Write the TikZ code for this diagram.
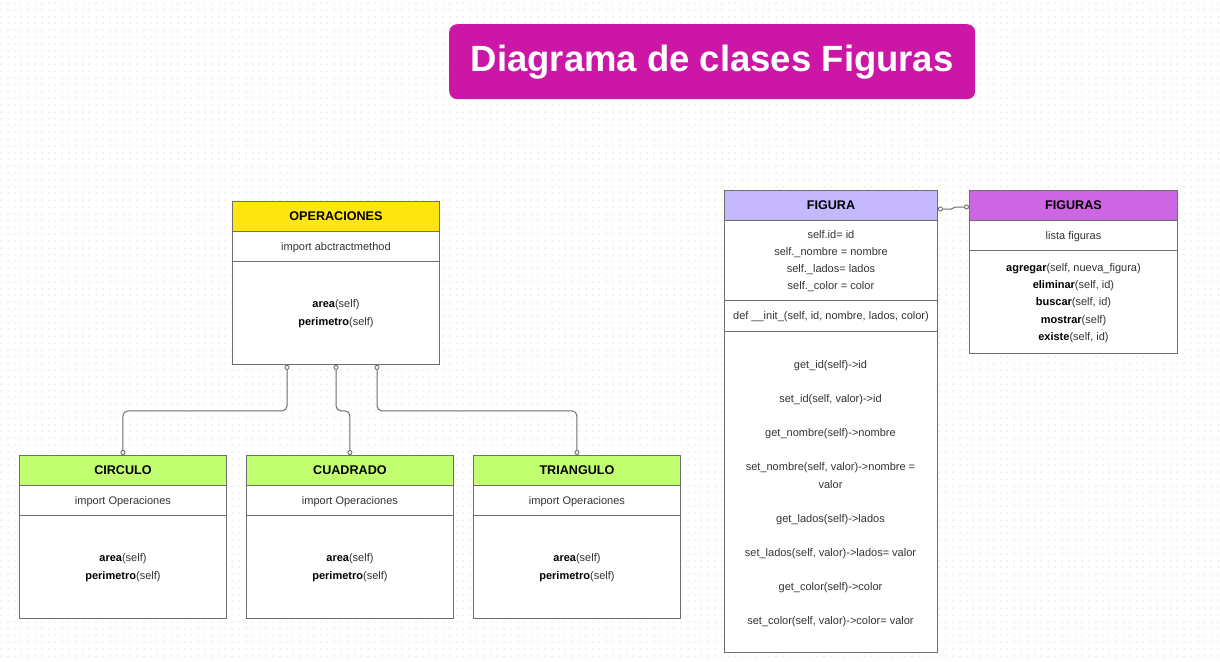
\documentclass[tikz,border=0pt]{standalone}
\usepackage{fontspec}
\setmainfont{Liberation Sans}
\usetikzlibrary{arrows.meta}
\definecolor{titlec}{HTML}{CC16A5}
\definecolor{yellowc}{HTML}{FFE60F}
\definecolor{greenc}{HTML}{C2FF70}
\definecolor{lavc}{HTML}{C5B8FF}
\definecolor{purpc}{HTML}{CC66E3}
\definecolor{linec}{HTML}{6E6E6E}
\definecolor{txtc}{HTML}{333333}
\definecolor{gridc}{HTML}{EFEFEF}
\begin{document}
\begin{tikzpicture}[x=1pt,y=-1pt,
  hdr/.style={draw=linec, line width=0.9pt, inner sep=0pt, anchor=north west, text depth=0pt,
    font=\fontsize{12.6}{14}\selectfont\bfseries, text=black},
  cell/.style={draw=linec, line width=0.9pt, fill=white, inner sep=0pt, anchor=north west,
    align=center, text=txtc, text depth=0pt, font=\fontsize{11}{18}\selectfont},
  txt/.style={inner sep=0pt, align=center, text=txtc, text depth=0pt, font=\fontsize{11}{18}\selectfont},
  conn/.style={draw=linec, line width=1pt, rounded corners=5pt,
    {Circle[open,length=5pt,width=5pt,line width=0.9pt]}-{Circle[open,length=5pt,width=5pt,line width=0.9pt]}}
]
\useasboundingbox (0,0) rectangle (1220,661);
\fill[white] (0,0) rectangle (1220,661);
% dotted grid of small crosses
\foreach \k in {0,...,97} {
  \draw[gridc, line width=0.6pt, dash pattern=on 2pt off 4.8pt] (0,{3+6.8*\k}) -- (1220,{3+6.8*\k});
}
\foreach \j in {0,...,179} {
  \draw[gridc, line width=0.6pt, dash pattern=on 2pt off 4.8pt] ({1+6.8*\j},2) -- ({1+6.8*\j},661);
}

% title
\node[fill=titlec, rounded corners=8pt, minimum width=526pt, minimum height=75pt, inner sep=0pt,
  anchor=north west, text=white, font=\fontsize{36.5}{40}\selectfont\bfseries] (title) at (449,24)
  {\raisebox{-2pt}{Diagrama de clases Figuras}};

% OPERACIONES
\node[hdr, fill=yellowc, minimum width=207pt, minimum height=30pt] (opsH) at (232,201) {OPERACIONES};
\node[cell, minimum width=207pt, minimum height=30pt] (opsA) at (232,231) {import abctractmethod};
\node[cell, minimum width=207pt, minimum height=103pt] (opsM) at (232,261)
  {\textcolor{black}{\bfseries area}(self)\\\textcolor{black}{\bfseries perimetro}(self)};

% children
\node[hdr, fill=greenc, minimum width=207pt, minimum height=30pt] (cirH) at (19,455) {CIRCULO};
\node[cell, minimum width=207pt, minimum height=30pt] (cirA) at (19,485) {import Operaciones};
\node[cell, minimum width=207pt, minimum height=103pt] (cirM) at (19,515)
  {\textcolor{black}{\bfseries area}(self)\\\textcolor{black}{\bfseries perimetro}(self)};

\node[hdr, fill=greenc, minimum width=207pt, minimum height=30pt] (cuaH) at (246,455) {CUADRADO};
\node[cell, minimum width=207pt, minimum height=30pt] (cuaA) at (246,485) {import Operaciones};
\node[cell, minimum width=207pt, minimum height=103pt] (cuaM) at (246,515)
  {\textcolor{black}{\bfseries area}(self)\\\textcolor{black}{\bfseries perimetro}(self)};

\node[hdr, fill=greenc, minimum width=207pt, minimum height=30pt] (triH) at (473,455) {TRIANGULO};
\node[cell, minimum width=207pt, minimum height=30pt] (triA) at (473,485) {import Operaciones};
\node[cell, minimum width=207pt, minimum height=103pt] (triM) at (473,515)
  {\textcolor{black}{\bfseries area}(self)\\\textcolor{black}{\bfseries perimetro}(self)};

% connectors
\draw[conn] ([xshift=55pt]opsM.south west) -- ++(0,46) -| (cirH.north);
\draw[conn] ([xshift=104pt]opsM.south west) -- ++(0,46) -| (cuaH.north);
\draw[conn] ([xshift=145pt]opsM.south west) -- ++(0,46) -| (triH.north);

% FIGURA
\node[hdr, fill=lavc, minimum width=213pt, minimum height=29.5pt] (figH) at (724,190) {FIGURA};
\node[cell, minimum width=213pt, minimum height=80.5pt, font=\fontsize{11}{17}\selectfont] (figA) at (724,219.5)
  {self.id= id\\self.\_nombre = nombre\\self.\_lados= lados\\self.\_color = color};
\node[cell, minimum width=213pt, minimum height=31pt] (figI) at (724,300)
  {def \_\_init\_(self, id, nombre, lados, color)};
\node[cell, minimum width=213pt, minimum height=321pt] (figM) at (724,331) {};
\node[txt] (m1) at (830.5,365) {get\_id(self)->id};
\node[txt] (m2) at (830.5,399) {set\_id(self, valor)->id};
\node[txt] (m3) at (830.5,433) {get\_nombre(self)->nombre};
\node[txt] (m4) at (830.5,476) {set\_nombre(self, valor)->nombre =\\valor};
\node[txt] (m5) at (830.5,519) {get\_lados(self)->lados};
\node[txt] (m6) at (830.5,553) {set\_lados(self, valor)->lados= valor};
\node[txt] (m7) at (830.5,587) {get\_color(self)->color};
\node[txt] (m8) at (830.5,621) {set\_color(self, valor)->color= valor};

% FIGURAS
\node[hdr, fill=purpc, minimum width=208pt, minimum height=29.5pt] (fsH) at (969,190) {FIGURAS};
\node[cell, minimum width=208pt, minimum height=30.5pt] (fsA) at (969,219.5) {lista figuras};
\node[cell, minimum width=208pt, minimum height=103pt, font=\fontsize{11}{17.25}\selectfont] (fsM) at (969,250)
  {\textcolor{black}{\bfseries agregar}(self, nueva\_figura)\\
   \textcolor{black}{\bfseries eliminar}(self, id)\\
   \textcolor{black}{\bfseries buscar}(self, id)\\
   \textcolor{black}{\bfseries mostrar}(self)\\
   \textcolor{black}{\bfseries existe}(self, id)};

\draw[conn, rounded corners=1pt] ([yshift=-19pt]figH.north east) -- ++(14,0) -- ++(3,-2) -- ([yshift=-17pt]fsH.north west);
\end{tikzpicture}
\end{document}
